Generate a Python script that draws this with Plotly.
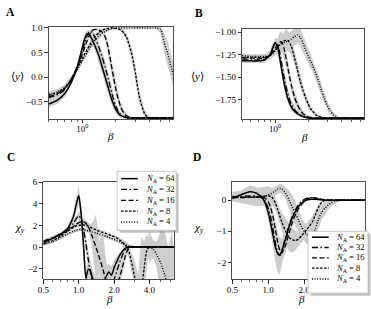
import math
import plotly.graph_objects as go

W, H = 371, 309

# ---------------- data ----------------
BETA = [0.5, 0.6, 0.7, 0.8, 0.9, 0.95, 1.0, 1.05, 1.1, 1.15, 1.2, 1.25, 1.3, 1.4, 1.5,
        1.6, 1.7, 1.8, 1.9, 2.0, 2.1, 2.2, 2.35, 2.5, 2.65, 2.8, 3.0, 3.2, 3.4, 3.6,
        3.8, 4.0, 4.3, 4.6, 5.0, 5.4, 5.8, 6.2, 6.5]

N_SIZES = ["64", "32", "16", "8", "4"]

# Panel A: <y> vs beta
A_N64 = [-0.55, -0.47, -0.33, -0.1, 0.2, 0.4, 0.6, 0.78, 0.88, 0.87, 0.8, 0.72, 0.63, 0.45, 0.22,
         0.0, -0.2, -0.4, -0.55, -0.66, -0.73, -0.78, -0.81, -0.825, -0.83, -0.83, -0.83, -0.83, -0.83, -0.83,
         -0.83, -0.83, -0.83, -0.83, -0.83, -0.83, -0.83, -0.83, -0.83]
A_N32 = [-0.42, -0.36, -0.25, -0.05, 0.2, 0.35, 0.52, 0.7, 0.83, 0.92, 0.93, 0.88, 0.8, 0.62, 0.42,
         0.2, -0.02, -0.25, -0.45, -0.6, -0.7, -0.76, -0.8, -0.82, -0.83, -0.83, -0.83, -0.83, -0.83, -0.83,
         -0.83, -0.83, -0.83, -0.83, -0.83, -0.83, -0.83, -0.83, -0.83]
A_N16 = [-0.4, -0.34, -0.23, -0.04, 0.2, 0.33, 0.47, 0.6, 0.73, 0.84, 0.92, 0.96, 0.97, 0.96, 0.92,
         0.82, 0.6, 0.3, 0.0, -0.25, -0.45, -0.6, -0.73, -0.79, -0.82, -0.83, -0.83, -0.83, -0.83, -0.83,
         -0.83, -0.83, -0.83, -0.83, -0.83, -0.83, -0.83, -0.83, -0.83]
A_N8 = [-0.37, -0.32, -0.22, -0.04, 0.17, 0.28, 0.38, 0.47, 0.55, 0.63, 0.7, 0.76, 0.82, 0.9, 0.95,
        0.98, 0.99, 1.0, 1.0, 0.99, 0.98, 0.96, 0.9, 0.8, 0.62, 0.42, 0.05, -0.35, -0.58, -0.74,
        -0.81, -0.83, -0.83, -0.83, -0.83, -0.83, -0.83, -0.83, -0.83]
A_N4 = [-0.35, -0.3, -0.2, -0.03, 0.15, 0.24, 0.33, 0.42, 0.5, 0.57, 0.64, 0.7, 0.75, 0.83, 0.89,
        0.93, 0.96, 0.98, 0.99, 1.0, 1.0, 1.0, 1.0, 1.0, 1.0, 1.0, 1.0, 1.0, 1.0, 1.0,
        1.0, 1.0, 1.0, 1.0, 0.97, 0.7, 0.48, 0.22, 0.05]
A_SD64 = [0.07, 0.07, 0.07, 0.06, 0.05, 0.06, 0.08, 0.08, 0.07, 0.07, 0.08, 0.09, 0.1, 0.12, 0.13,
          0.13, 0.13, 0.12, 0.1, 0.08, 0.06, 0.04, 0.03, 0.02, 0.02, 0.02, 0.02, 0.02, 0.02, 0.02,
          0.02, 0.02, 0.02, 0.02, 0.02, 0.02, 0.02, 0.02, 0.02]
A_SD32 = [0.07, 0.07, 0.06, 0.05, 0.05, 0.06, 0.07, 0.07, 0.06, 0.05, 0.05, 0.06, 0.08, 0.1, 0.12,
          0.13, 0.13, 0.12, 0.1, 0.08, 0.06, 0.04, 0.03, 0.02, 0.02, 0.02, 0.02, 0.02, 0.02, 0.02,
          0.02, 0.02, 0.02, 0.02, 0.02, 0.02, 0.02, 0.02, 0.02]
A_SD16 = [0.06, 0.06, 0.05, 0.05, 0.05, 0.05, 0.06, 0.06, 0.06, 0.05, 0.04, 0.03, 0.03, 0.03, 0.04,
          0.07, 0.11, 0.14, 0.14, 0.13, 0.11, 0.09, 0.06, 0.04, 0.03, 0.02, 0.02, 0.02, 0.02, 0.02,
          0.02, 0.02, 0.02, 0.02, 0.02, 0.02, 0.02, 0.02, 0.02]
A_SD8 = [0.06, 0.06, 0.05, 0.05, 0.05, 0.05, 0.06, 0.06, 0.06, 0.06, 0.06, 0.06, 0.05, 0.04, 0.03,
         0.02, 0.02, 0.02, 0.02, 0.02, 0.02, 0.03, 0.05, 0.08, 0.11, 0.14, 0.15, 0.14, 0.11, 0.08,
         0.05, 0.03, 0.02, 0.02, 0.02, 0.02, 0.02, 0.02, 0.02]
A_SD4 = [0.06, 0.06, 0.05, 0.05, 0.05, 0.05, 0.06, 0.06, 0.06, 0.06, 0.06, 0.06, 0.05, 0.05, 0.04,
         0.03, 0.03, 0.02, 0.02, 0.02, 0.02, 0.02, 0.02, 0.02, 0.02, 0.02, 0.02, 0.02, 0.02, 0.02,
         0.02, 0.02, 0.02, 0.03, 0.08, 0.2, 0.25, 0.25, 0.25]

# Panel B: <y> vs beta
B_N64 = [-1.32, -1.32, -1.32, -1.31, -1.25, -1.18, -1.12, -1.16, -1.28, -1.42, -1.55, -1.65, -1.73, -1.83, -1.88,
         -1.91, -1.93, -1.94, -1.95, -1.955, -1.96, -1.96, -1.96, -1.96, -1.96, -1.96, -1.96, -1.96, -1.96, -1.96,
         -1.96, -1.96, -1.96, -1.96, -1.96, -1.96, -1.96, -1.96, -1.96]
B_N32 = [-1.31, -1.31, -1.31, -1.3, -1.25, -1.18, -1.12, -1.13, -1.22, -1.35, -1.48, -1.59, -1.68, -1.8, -1.86,
         -1.9, -1.92, -1.94, -1.95, -1.955, -1.96, -1.96, -1.96, -1.96, -1.96, -1.96, -1.96, -1.96, -1.96, -1.96,
         -1.96, -1.96, -1.96, -1.96, -1.96, -1.96, -1.96, -1.96, -1.96]
B_N16 = [-1.29, -1.29, -1.29, -1.29, -1.26, -1.22, -1.18, -1.14, -1.11, -1.11, -1.17, -1.27, -1.38, -1.58, -1.72,
         -1.81, -1.87, -1.91, -1.93, -1.945, -1.95, -1.955, -1.96, -1.96, -1.96, -1.96, -1.96, -1.96, -1.96, -1.96,
         -1.96, -1.96, -1.96, -1.96, -1.96, -1.96, -1.96, -1.96, -1.96]
B_N8 = [-1.28, -1.28, -1.28, -1.28, -1.26, -1.23, -1.2, -1.17, -1.14, -1.12, -1.1, -1.09, -1.09, -1.15, -1.28,
        -1.42, -1.55, -1.65, -1.73, -1.8, -1.85, -1.88, -1.92, -1.94, -1.95, -1.955, -1.96, -1.96, -1.96, -1.96,
        -1.96, -1.96, -1.96, -1.96, -1.96, -1.96, -1.96, -1.96, -1.96]
B_N4 = [-1.26, -1.27, -1.27, -1.27, -1.26, -1.24, -1.21, -1.18, -1.15, -1.13, -1.12, -1.11, -1.1, -1.08, -1.05,
        -1.03, -1.06, -1.12, -1.2, -1.26, -1.32, -1.37, -1.46, -1.55, -1.65, -1.73, -1.82, -1.88, -1.92, -1.94,
        -1.955, -1.96, -1.96, -1.96, -1.96, -1.96, -1.96, -1.96, -1.96]
B_SD64 = [0.025, 0.025, 0.025, 0.03, 0.05, 0.05, 0.05, 0.05, 0.06, 0.07, 0.07, 0.06, 0.05, 0.04, 0.03,
          0.02, 0.015, 0.01, 0.01, 0.01, 0.005, 0.005, 0.005, 0.005, 0.005, 0.005, 0.005, 0.005, 0.005, 0.005,
          0.005, 0.005, 0.005, 0.005, 0.005, 0.005, 0.005, 0.005, 0.005]
B_SD32 = [0.025, 0.025, 0.025, 0.03, 0.05, 0.05, 0.05, 0.05, 0.06, 0.07, 0.07, 0.07, 0.06, 0.05, 0.04,
          0.03, 0.02, 0.015, 0.01, 0.01, 0.005, 0.005, 0.005, 0.005, 0.005, 0.005, 0.005, 0.005, 0.005, 0.005,
          0.005, 0.005, 0.005, 0.005, 0.005, 0.005, 0.005, 0.005, 0.005]
B_SD16 = [0.025, 0.025, 0.025, 0.03, 0.04, 0.05, 0.06, 0.07, 0.1, 0.12, 0.12, 0.1, 0.08, 0.07, 0.06,
          0.05, 0.04, 0.03, 0.02, 0.015, 0.01, 0.01, 0.005, 0.005, 0.005, 0.005, 0.005, 0.005, 0.005, 0.005,
          0.005, 0.005, 0.005, 0.005, 0.005, 0.005, 0.005, 0.005, 0.005]
B_SD8 = [0.025, 0.025, 0.025, 0.025, 0.03, 0.04, 0.05, 0.06, 0.07, 0.08, 0.1, 0.12, 0.12, 0.1, 0.08,
         0.07, 0.07, 0.06, 0.05, 0.04, 0.03, 0.025, 0.02, 0.015, 0.01, 0.01, 0.005, 0.005, 0.005, 0.005,
         0.005, 0.005, 0.005, 0.005, 0.005, 0.005, 0.005, 0.005, 0.005]
B_SD4 = [0.025, 0.025, 0.025, 0.025, 0.03, 0.04, 0.05, 0.06, 0.07, 0.08, 0.08, 0.08, 0.08, 0.09, 0.1,
         0.1, 0.1, 0.09, 0.08, 0.08, 0.08, 0.07, 0.07, 0.07, 0.07, 0.06, 0.05, 0.04, 0.03, 0.02,
         0.01, 0.005, 0.005, 0.005, 0.005, 0.005, 0.005, 0.005, 0.005]

# Panel C: chi_y (of panel A quantity)
C_N64 = [0.4, 0.8, 1.2, 1.7, 2.8, 3.9, 4.75, 3.0, 0.0, -2.9, -2.1, -2.1, -2.8, -3.6, -3.6,
         -3.4, -2.8, -2.3, -2.6, -1.9, -1.4, -0.9, -0.4, -0.1, 0.0, 0.0, 0.0, 0.0, 0.0, 0.0,
         0.0, 0.0, 0.0, 0.0, 0.0, 0.0, 0.0, 0.0, 0.0]
C_N32 = [0.5, 0.85, 1.2, 1.6, 2.2, 2.6, 2.9, 2.6, 1.6, 0.3, -1.0, -2.2, -3.0, -3.6, -3.6,
         -3.6, -3.6, -3.6, -3.5, -3.0, -2.3, -1.6, -0.8, -0.2, 0.0, 0.0, 0.0, 0.0, 0.0, 0.0,
         0.0, 0.0, 0.0, 0.0, 0.0, 0.0, 0.0, 0.0, 0.0]
C_N16 = [0.55, 0.85, 1.15, 1.5, 1.9, 2.1, 2.25, 2.35, 2.35, 2.2, 1.9, 1.5, 1.0, 0.0, -1.0,
         -2.0, -3.0, -3.6, -3.6, -3.6, -3.6, -3.0, -1.9, -0.8, -0.1, 0.0, 0.0, 0.0, 0.0, 0.0,
         0.0, 0.0, 0.0, 0.0, 0.0, 0.0, 0.0, 0.0, 0.0]
C_N8 = [0.3, 0.6, 1.0, 1.45, 1.8, 1.95, 2.0, 2.05, 2.05, 2.0, 1.95, 1.85, 1.75, 1.6, 1.45,
        1.35, 1.25, 1.15, 1.05, 0.95, 0.85, 0.7, 0.45, 0.15, -0.3, -1.3, -2.8, -3.6, -3.6, -2.0,
        -0.3, 0.0, 0.0, 0.0, 0.0, 0.0, 0.0, 0.0, 0.0]
C_N4 = [0.25, 0.5, 0.85, 1.2, 1.45, 1.55, 1.6, 1.62, 1.6, 1.55, 1.5, 1.45, 1.4, 1.3, 1.2,
        1.1, 1.0, 0.9, 0.8, 0.7, 0.6, 0.5, 0.35, 0.2, 0.1, 0.05, 0.0, 0.0, 0.0, 0.0,
        0.0, 0.0, -0.2, -0.7, -1.5, -2.6, -3.6, -3.6, -3.6]
C_SD64 = [0.15, 0.15, 0.15, 0.2, 0.4, 0.7, 0.9, 0.8, 0.8, 0.8, 0.8, 0.8, 0.8, 0.8, 0.8,
          0.8, 0.8, 0.8, 0.8, 0.7, 0.5, 0.35, 0.2, 0.1, 0.05, 0.03, 0.03, 0.03, 0.03, 0.03,
          0.03, 0.03, 0.03, 0.03, 0.03, 0.03, 0.03, 0.03, 0.03]
C_SD32 = [0.15, 0.15, 0.15, 0.15, 0.2, 0.3, 0.4, 0.5, 0.6, 0.7, 0.8, 0.8, 0.8, 0.8, 0.8,
          0.8, 0.8, 0.8, 0.8, 0.8, 0.7, 0.5, 0.3, 0.15, 0.05, 0.03, 0.03, 0.03, 0.03, 0.03,
          0.03, 0.03, 0.03, 0.03, 0.03, 0.03, 0.03, 0.03, 0.03]
C_SD16 = [0.15, 0.15, 0.15, 0.15, 0.15, 0.15, 0.2, 0.2, 0.25, 0.3, 0.4, 0.6, 1.2, 3.0, 1.5,
          3.5, 2.0, 1.0, 1.0, 1.0, 1.0, 1.0, 0.7, 0.4, 0.15, 0.05, 0.03, 0.03, 0.03, 0.03,
          0.03, 0.03, 0.03, 0.03, 0.03, 0.03, 0.03, 0.03, 0.03]
C_SD8 = [0.15, 0.15, 0.15, 0.15, 0.15, 0.15, 0.15, 0.15, 0.15, 0.15, 0.15, 0.15, 0.15, 0.15, 0.15,
         0.15, 0.15, 0.15, 0.15, 0.15, 0.15, 0.2, 0.3, 0.4, 0.6, 0.9, 1.5, 1.0, 4.5, 2.5,
         1.5, 0.5, 0.05, 0.03, 0.03, 0.03, 0.03, 0.03, 0.03]
C_SD4 = [0.15, 0.15, 0.15, 0.15, 0.15, 0.15, 0.15, 0.15, 0.15, 0.15, 0.15, 0.15, 0.15, 0.15, 0.15,
         0.15, 0.15, 0.15, 0.15, 0.15, 0.15, 0.15, 0.15, 0.15, 0.15, 0.15, 0.1, 0.1, 0.1, 0.2,
         0.3, 1.5, 0.8, 1.2, 3.0, 4.0, 3.5, 5.0, 3.0]

# Panel D: chi_y (of panel B quantity)
D_N64 = [0.05, 0.18, 0.27, 0.22, 0.05, -0.12, -0.4, -0.75, -1.15, -1.5, -1.72, -1.78, -1.65, -1.25, -0.85,
         -0.55, -0.35, -0.2, -0.1, -0.04, 0.0, 0.02, 0.03, 0.03, 0.02, 0.01, 0.0, 0.0, 0.0, 0.0,
         0.0, 0.0, 0.0, 0.0, 0.0, 0.0, 0.0, 0.0, 0.0]
D_N32 = [0.1, 0.12, 0.14, 0.13, 0.06, -0.05, -0.25, -0.55, -0.95, -1.38, -1.68, -1.75, -1.62, -1.2, -0.8,
         -0.5, -0.3, -0.15, -0.05, 0.02, 0.06, 0.08, 0.07, 0.05, 0.03, 0.01, 0.0, 0.0, 0.0, 0.0,
         0.0, 0.0, 0.0, 0.0, 0.0, 0.0, 0.0, 0.0, 0.0]
D_N16 = [0.08, 0.08, 0.09, 0.1, 0.1, 0.05, -0.05, -0.25, -0.55, -0.95, -1.35, -1.6, -1.7, -1.45, -1.05,
         -0.7, -0.45, -0.27, -0.14, -0.05, 0.02, 0.06, 0.08, 0.07, 0.05, 0.03, 0.01, 0.0, 0.0, 0.0,
         0.0, 0.0, 0.0, 0.0, 0.0, 0.0, 0.0, 0.0, 0.0]
D_N8 = [0.12, 0.1, 0.09, 0.1, 0.12, 0.13, 0.14, 0.12, 0.05, -0.1, -0.3, -0.5, -0.7, -1.0, -1.2,
        -1.28, -1.3, -1.25, -1.15, -1.05, -0.95, -0.85, -0.7, -0.45, -0.22, -0.08, 0.0, 0.0, 0.0, 0.0,
        0.0, 0.0, 0.0, 0.0, 0.0, 0.0, 0.0, 0.0, 0.0]
D_N4 = [0.1, 0.1, 0.1, 0.1, 0.12, 0.14, 0.17, 0.2, 0.25, 0.3, 0.35, 0.38, 0.36, 0.22, 0.0,
        -0.25, -0.45, -0.65, -0.85, -1.0, -1.1, -1.15, -1.1, -0.9, -0.6, -0.4, -0.25, -0.15, -0.08, -0.04,
        -0.02, 0.0, 0.0, 0.0, 0.0, 0.0, 0.0, 0.0, 0.0]
D_SD64 = [0.1, 0.15, 0.2, 0.2, 0.15, 0.15, 0.2, 0.3, 0.4, 0.5, 0.6, 0.6, 0.4, 0.25, 0.15,
          0.1, 0.08, 0.05, 0.04, 0.03, 0.02, 0.02, 0.02, 0.02, 0.02, 0.02, 0.02, 0.02, 0.02, 0.02,
          0.02, 0.02, 0.02, 0.02, 0.02, 0.02, 0.02, 0.02, 0.02]
D_SD32 = [0.05, 0.08, 0.1, 0.1, 0.1, 0.1, 0.15, 0.2, 0.25, 0.3, 0.3, 0.3, 0.3, 0.2, 0.15,
          0.1, 0.08, 0.05, 0.04, 0.03, 0.02, 0.02, 0.02, 0.02, 0.02, 0.02, 0.02, 0.02, 0.02, 0.02,
          0.02, 0.02, 0.02, 0.02, 0.02, 0.02, 0.02, 0.02, 0.02]
D_SD16 = [0.05, 0.05, 0.08, 0.1, 0.1, 0.1, 0.1, 0.15, 0.2, 0.25, 0.3, 0.3, 0.3, 0.25, 0.2,
          0.15, 0.1, 0.06, 0.04, 0.03, 0.02, 0.02, 0.02, 0.02, 0.02, 0.02, 0.02, 0.02, 0.02, 0.02,
          0.02, 0.02, 0.02, 0.02, 0.02, 0.02, 0.02, 0.02, 0.02]
D_SD8 = [0.15, 0.2, 0.25, 0.3, 0.3, 0.3, 0.3, 0.3, 0.25, 0.2, 0.2, 0.25, 0.3, 0.4, 0.45,
         0.4, 0.3, 0.25, 0.2, 0.2, 0.2, 0.2, 0.2, 0.15, 0.1, 0.05, 0.03, 0.02, 0.02, 0.02,
         0.02, 0.02, 0.02, 0.02, 0.02, 0.02, 0.02, 0.02, 0.02]
D_SD4 = [0.1, 0.15, 0.2, 0.2, 0.2, 0.15, 0.15, 0.15, 0.15, 0.15, 0.15, 0.15, 0.15, 0.2, 0.3,
         0.4, 0.4, 0.35, 0.3, 0.3, 0.3, 0.3, 0.3, 0.3, 0.3, 0.25, 0.2, 0.15, 0.1, 0.08,
         0.05, 0.03, 0.02, 0.02, 0.02, 0.02, 0.02, 0.02, 0.02]

A_TICKS = [-0.5, 0.0, 0.5, 1.0]
B_TICKS = [-1.75, -1.5, -1.25, -1.0]
C_TICKS = [-2, 0, 2, 4, 6]
D_TICKS = [-2, -1, 0]
LOG_X_TICKS = [1.0]
LIN_X_TICKS = [0.5, 1.0, 2.0, 4.0]
MINOR_TICKS = [0.5, 0.6, 0.7, 0.8, 0.9, 2.0, 3.0, 4.0, 5.0, 6.0]

# ---------------- styling ----------------
FONT = "Liberation Serif"
BAND = "rgb(205,205,205)"
DASHES = ["solid", "6px,2.5px,1.5px,2.5px", "5px,2.5px", "2.5px,1.5px", "1px,1.6px"]
WIDTHS = [1.5, 1.3, 1.3, 1.3, 1.4]

panels = [
    ("A", [A_N64, A_N32, A_N16, A_N8, A_N4], [A_SD64, A_SD32, A_SD16, A_SD8, A_SD4], "x", "y"),
    ("B", [B_N64, B_N32, B_N16, B_N8, B_N4], [B_SD64, B_SD32, B_SD16, B_SD8, B_SD4], "x2", "y2"),
    ("C", [C_N64, C_N32, C_N16, C_N8, C_N4], [C_SD64, C_SD32, C_SD16, C_SD8, C_SD4], "x3", "y3"),
    ("D", [D_N64, D_N32, D_N16, D_N8, D_N4], [D_SD64, D_SD32, D_SD16, D_SD8, D_SD4], "x4", "y4"),
]

fig = go.Figure()
for name, means, sds, xa, ya in panels:
    for m, s in zip(means, sds):
        assert len(m) == len(BETA) and len(s) == len(BETA)
        up = [a + b for a, b in zip(m, s)]
        lo = [a - b for a, b in zip(m, s)]
        fig.add_trace(go.Scatter(x=BETA + BETA[::-1], y=up + lo[::-1], fill="toself",
                                 fillcolor=BAND, line=dict(width=0, color=BAND), mode="lines",
                                 hoverinfo="skip", showlegend=False, xaxis=xa, yaxis=ya))
    for m, dash, wd, n in zip(means, DASHES, WIDTHS, N_SIZES):
        fig.add_trace(go.Scatter(x=BETA, y=m, mode="lines", name="N=" + n,
                                 line=dict(color="black", width=wd, dash=dash, shape="spline", smoothing=0.6),
                                 showlegend=False, xaxis=xa, yaxis=ya))


def xd(l, r):
    return [l / W, r / W]


def yd(t, b):
    return [1 - b / H, 1 - t / H]


XR = [math.log10(0.5), math.log10(6.5)]
tickfont = dict(family=FONT, size=9, color="black")
common = dict(showline=True, linecolor="#222", linewidth=0.8, mirror=True, ticks="outside",
              ticklen=3.5, tickwidth=0.8, tickcolor="black", showgrid=False, zeroline=False,
              tickfont=tickfont)


def fmt(v, d):
    s = f"{v:.{d}f}"
    return s.replace("-", "\u2212")


def xlog(domain, lin, anchor):
    if lin:
        tv, tt = LIN_X_TICKS, [f"{v:.1f}" for v in LIN_X_TICKS]
    else:
        tv, tt = LOG_X_TICKS, ["10<sup>0</sup>"]
    return dict(type="log", range=XR, domain=domain, anchor=anchor, tickvals=tv, ticktext=tt,
                ticklabelstandoff=-2,
                minor=dict(tickvals=MINOR_TICKS, ticks="outside", ticklen=2, tickwidth=0.6,
                           tickcolor="black", showgrid=False),
                **common)


def ylin(domain, rng, ticks, d, anchor):
    return dict(range=rng, domain=domain, anchor=anchor, tickvals=ticks,
                ticktext=[fmt(v, d) for v in ticks], **common)


fig.update_layout(
    width=W, height=H, margin=dict(l=0, r=0, t=0, b=0),
    paper_bgcolor="white", plot_bgcolor="white", showlegend=False,
    font=dict(family=FONT, color="black"),
    xaxis=xlog(xd(43.3, 170), False, "y"),
    yaxis=ylin(yd(22, 116), [-0.855, 1.026], A_TICKS, 1, "x"),
    xaxis2=xlog(xd(240, 364), False, "y2"),
    yaxis2=ylin(yd(24, 116), [-1.97, -0.96], B_TICKS, 2, "x2"),
    xaxis3=xlog(xd(38, 171), True, "y3"),
    yaxis3=ylin(yd(180, 279), [-3.0, 6.0], C_TICKS, 0, "x3"),
    xaxis4=xlog(xd(230, 365), True, "y4"),
    yaxis4=ylin(yd(180, 279), [-2.55, 0.58], D_TICKS, 0, "x4"),
)


def px(x):
    return x / W


def py(y):
    return 1 - y / H


ann = []


def label(text, x, y, size=11, **kw):
    ann.append(dict(text=text, x=px(x), y=py(y), xref="paper", yref="paper", showarrow=False,
                    xanchor="center", yanchor="middle", font=dict(family=FONT, size=size, color="black"), **kw))


# panel letters
for t, x, y in [("A", 5, 7), ("B", 196, 8), ("C", 5, 154), ("D", 194, 154)]:
    label(f"<b>{t}</b>", x, y, size=11.5)
# axis labels
label("\u27e8<i>y</i>\u27e9", 12, 72)
label("\u27e8<i>y</i>\u27e9", 195, 72)
label("<i>χ</i><sub><i>y</i></sub>", 14, 227)
label("<i>χ</i><sub><i>y</i></sub>", 196, 227)
for x, y in [(106, 133), (303, 134), (105, 299), (300, 299)]:
    label("<i>β</i>", x, y)

# manual legends (box with shadow, line samples, labels)
shapes = []


def legend(x0, y0, x1, y1, rows, lx0, lx1, tx):
    shapes.append(dict(type="rect", xref="paper", yref="paper", x0=px(x0 + 2.5), x1=px(x1 + 2.5),
                       y0=py(y1 + 2.5), y1=py(y0 + 2.5), fillcolor="rgba(120,120,120,0.45)",
                       line=dict(width=0), layer="above"))
    shapes.append(dict(type="rect", xref="paper", yref="paper", x0=px(x0), x1=px(x1),
                       y0=py(y1), y1=py(y0), fillcolor="white",
                       line=dict(width=0.8, color="#bbbbbb"), layer="above"))
    for n, dash, wd, ry in zip(N_SIZES, DASHES, WIDTHS, rows):
        shapes.append(dict(type="line", xref="paper", yref="paper", x0=px(lx0), x1=px(lx1),
                           y0=py(ry), y1=py(ry), line=dict(color="black", width=wd, dash=dash),
                           layer="above"))
        ann.append(dict(text=f"<i>N</i><sub>A</sub> = {n}", x=px(tx), y=py(ry), xref="paper",
                        yref="paper", showarrow=False, xanchor="left", yanchor="middle",
                        font=dict(family=FONT, size=8.5, color="black")))


legend(113, 169, 173, 229, [176.5, 187.5, 198.5, 209.5, 220.5], 117, 134, 140)
legend(307, 230, 368, 293, [236, 246.5, 257, 267.5, 278.5], 311, 328, 333)

fig.update_layout(annotations=ann, shapes=shapes)
fig.write_html("out.html", config={"displayModeBar": False, "staticPlot": True},
               post_script="document.body.style.margin='0';document.body.style.overflow='hidden';")
